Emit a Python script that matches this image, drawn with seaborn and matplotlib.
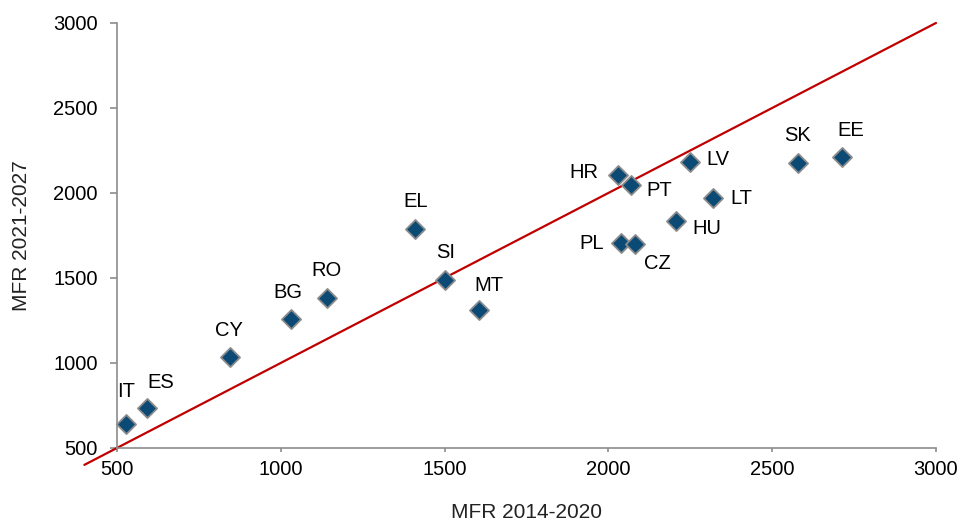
import matplotlib
matplotlib.use("Agg")
import matplotlib.pyplot as plt
import seaborn as sns
import pandas as pd

countries = ["IT", "ES", "CY", "BG", "RO", "EL", "SI", "MT", "HR", "PT",
             "PL", "CZ", "LV", "HU", "LT", "SK", "EE"]
mfr_2014 = [527, 590, 845, 1030, 1140, 1410, 1502, 1605, 2030, 2070,
            2037, 2082, 2248, 2207, 2318, 2578, 2714]
mfr_2021 = [641, 735, 1035, 1257, 1383, 1789, 1489, 1311, 2105, 2048,
            1704, 1698, 2181, 1833, 1970, 2174, 2212]

df = pd.DataFrame({"country": countries, "x": mfr_2014, "y": mfr_2021})

# label offsets (points) relative to each marker
offsets = {"IT": (0, 23), "ES": (10, 18), "CY": (-1, 19), "BG": (-2, 19),
           "RO": (0, 20), "EL": (0, 20), "SI": (0, 20), "MT": (7, 18),
           "HR": (-25, 2), "PT": (20, -4), "PL": (-21, 0), "CZ": (16, -14),
           "LV": (20, 2), "HU": (22, -5), "LT": (21, 0), "SK": (0, 20),
           "EE": (6, 19)}

sns.set_style("white")
plt.rcParams["font.family"] = ["Liberation Sans", "DejaVu Sans"]

fig = plt.figure(figsize=(9.6, 5.22), dpi=100)
ax = fig.add_axes([0.122, 0.142, 0.853, 0.814])

ax.plot([400, 3000], [400, 3000], color="#C00000", lw=1.6, clip_on=False, zorder=2)
sns.scatterplot(data=df, x="x", y="y", marker="D", s=95, color="#0B4A75",
                edgecolor="#8C8C8C", linewidth=1.3, ax=ax, zorder=3, clip_on=False)

for c, x, y in zip(countries, mfr_2014, mfr_2021):
    dx, dy = offsets[c]
    ax.annotate(c, (x, y), xytext=(dx, dy), textcoords="offset points",
                ha="center", va="center", fontsize=14.5, color="black")

ax.set_xlim(500, 3000)
ax.set_ylim(500, 3000)
ax.set_xticks(range(500, 3001, 500))
ax.set_yticks(range(500, 3001, 500))
ax.tick_params(axis="both", labelsize=14.5, color="#8C8C8C", labelcolor="black",
               direction="out", left=True, bottom=True, width=1.2)
ax.tick_params(axis="x", length=3, pad=6)
ax.tick_params(axis="y", length=5, pad=9)
ax.set_xlabel("MFR 2014-2020", fontsize=15, labelpad=17, color="#222222")
ax.set_ylabel("MFR 2021-2027", fontsize=15, labelpad=16, color="#222222")
sns.despine(ax=ax)
for s in ["left", "bottom"]:
    ax.spines[s].set_color("#8C8C8C")
    ax.spines[s].set_linewidth(1.2)

fig.savefig("out.png", dpi=100)
